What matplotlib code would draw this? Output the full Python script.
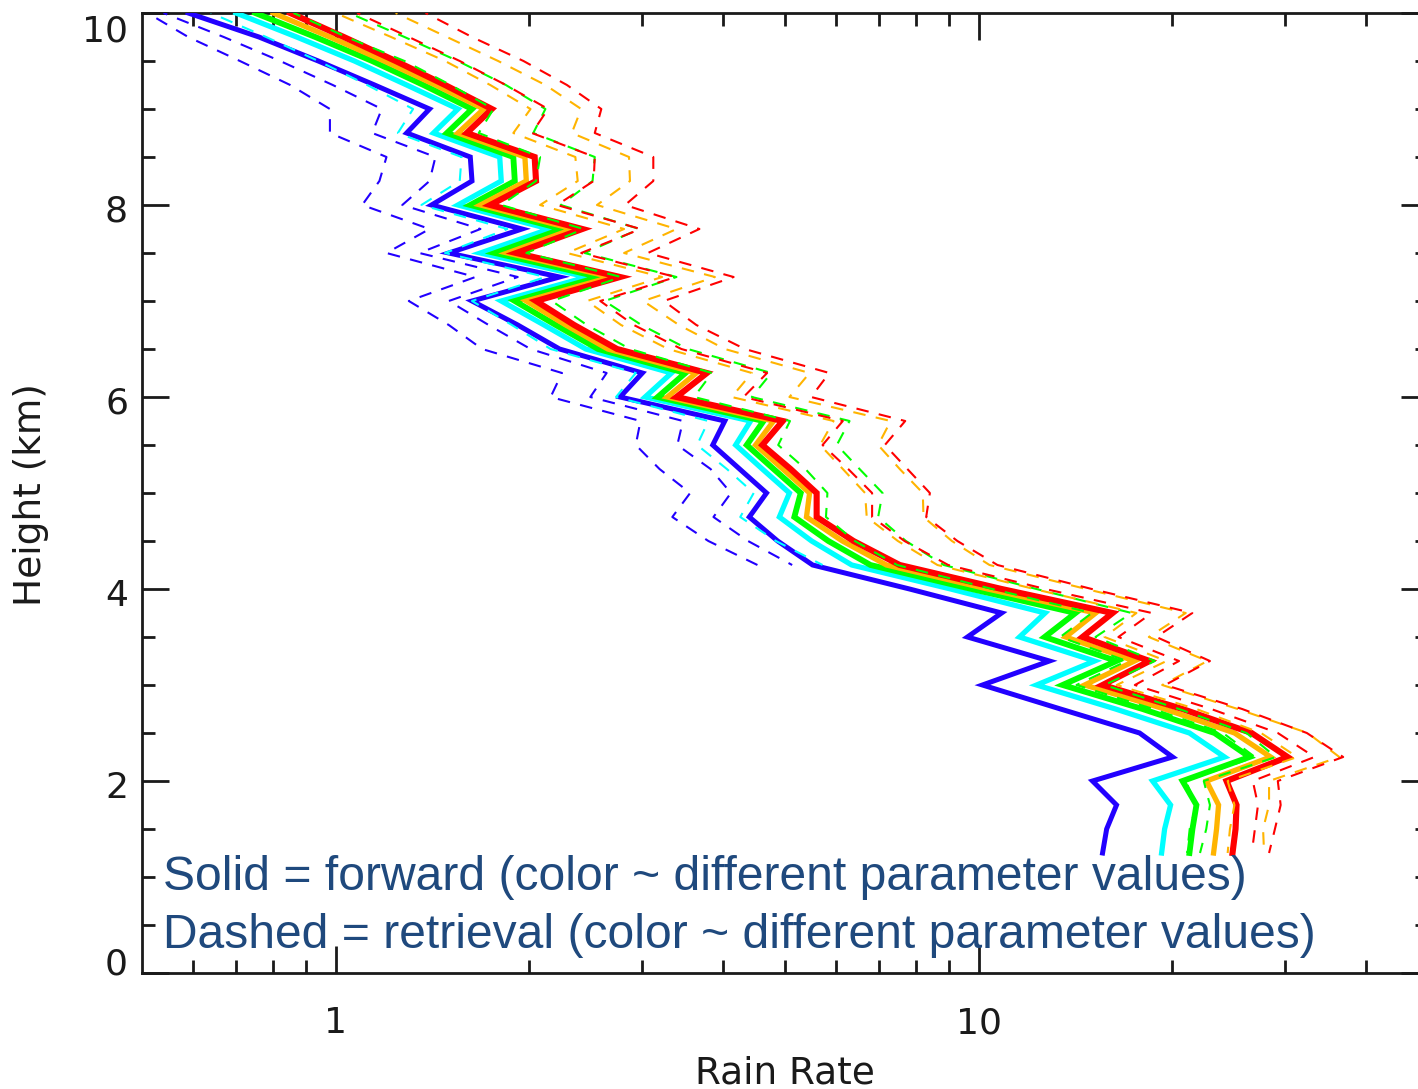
import matplotlib
matplotlib.use("Agg")
import matplotlib.pyplot as plt
import matplotlib.transforms as mtransforms
from matplotlib.ticker import FixedLocator, NullFormatter, FixedFormatter

# ---------------- data ----------------
height = [1.25, 1.50, 1.75, 2.00, 2.25, 2.50, 2.75, 3.00, 3.25, 3.50, 3.75, 4.00,
          4.25, 4.50, 4.75, 5.00, 5.25, 5.50, 5.75, 6.00, 6.25, 6.50, 6.75, 7.00,
          7.25, 7.50, 7.75, 8.00, 8.25, 8.50, 8.75, 9.00, 9.25, 9.50, 9.75, 10.00]
height_upper = [4.25, 4.50, 4.75, 5.00, 5.25, 5.50, 5.75, 6.00, 6.25, 6.50, 6.75, 7.00,
                7.25, 7.50, 7.75, 8.00, 8.25, 8.50, 8.75, 9.00, 9.25, 9.50, 9.75, 10.00]

# forward (solid)
fwd_blue = [15.59, 15.82, 16.39, 15.04, 20.03, 17.80, 13.41, 10.14, 12.89, 9.61, 10.86, 7.81,
            5.52, 4.87, 4.40, 4.68, 4.25, 3.86, 4.03, 2.77, 3.00, 2.23, 1.92, 1.63,
            2.23, 1.50, 1.95, 1.41, 1.63, 1.62, 1.29, 1.40, 1.15, 0.94, 0.76, 0.59]
fwd_cyan = [19.26, 19.47, 19.89, 18.65, 24.13, 21.28, 16.33, 12.31, 15.15, 11.58, 12.69, 9.05,
            6.35, 5.50, 4.90, 5.08, 4.61, 4.19, 4.42, 3.03, 3.33, 2.45, 2.11, 1.81,
            2.46, 1.68, 2.15, 1.55, 1.81, 1.80, 1.42, 1.55, 1.29, 1.07, 0.87, 0.70]
fwd_green = [21.28, 21.51, 21.82, 20.76, 26.39, 23.28, 17.99, 13.51, 16.39, 12.67, 14.15, 9.75,
             6.79, 5.84, 5.17, 5.29, 4.80, 4.36, 4.63, 3.17, 3.50, 2.56, 2.20, 1.90,
             2.57, 1.77, 2.25, 1.62, 1.90, 1.89, 1.49, 1.63, 1.37, 1.14, 0.93, 0.75]
fwd_orange = [23.20, 23.45, 23.62, 22.62, 28.46, 25.01, 19.47, 14.62, 17.48, 13.66, 15.21, 10.33,
              7.19, 6.14, 5.40, 5.46, 4.96, 4.50, 4.80, 3.28, 3.64, 2.65, 2.28, 1.98,
              2.68, 1.85, 2.34, 1.68, 1.98, 1.97, 1.55, 1.70, 1.43, 1.19, 0.98, 0.80]
fwd_red = [24.83, 25.10, 25.19, 24.30, 30.24, 26.58, 20.76, 15.59, 18.45, 14.51, 16.16, 10.86,
           7.54, 6.39, 5.60, 5.60, 5.10, 4.61, 4.96, 3.39, 3.78, 2.74, 2.35, 2.05,
           2.77, 1.91, 2.42, 1.74, 2.05, 2.04, 1.60, 1.75, 1.48, 1.24, 1.03, 0.85]

# retrieval (dashed)
ret_blue_a = [4.53, 3.80, 3.34, 3.56, 3.19, 2.93, 2.98, 2.16, 2.25, 1.69, 1.50, 1.30,
              1.65, 1.20, 1.40, 1.10, 1.17, 1.20, 0.98, 0.98, 0.85, 0.71, 0.59, 0.51]
ret_blue_b = [5.13, 4.38, 3.87, 4.12, 3.83, 3.40, 3.47, 2.49, 2.64, 2.01, 1.73, 1.50,
              1.92, 1.35, 1.68, 1.27, 1.40, 1.43, 1.14, 1.18, 0.99, 0.82, 0.67, 0.54]
ret_cyan = [5.72, 4.84, 4.26, 4.47, 4.06, 3.65, 3.80, 2.73, 2.93, 2.16, 1.88, 1.63,
            2.12, 1.48, 1.85, 1.36, 1.56, 1.57, 1.25, 1.32, 1.12, 0.94, 0.78, 0.64]
ret_green_a = [21.1, 21.3, 21.8, 21.0, 26.9, 24.0, 18.7, 14.2, 17.0, 13.4, 15.0, 10.5,
               7.47, 6.42, 5.79, 5.82, 5.38, 4.88, 5.09, 3.61, 3.85, 2.87, 2.46, 2.17,
               2.78, 1.98, 2.43, 1.81, 2.05, 2.08, 1.67, 1.76, 1.51, 1.28, 1.04, 0.86]
ret_green_b = [22.1, 22.6, 22.9, 22.4, 29.0, 26.1, 20.5, 15.7, 18.8, 15.2, 17.3, 12.3,
               8.83, 7.71, 6.98, 7.09, 6.53, 6.02, 6.30, 4.44, 4.76, 3.53, 2.99, 2.62,
               3.39, 2.44, 2.97, 2.24, 2.51, 2.53, 2.03, 2.12, 1.84, 1.55, 1.28, 1.05]
ret_orange_a = [24.4, 24.6, 25.0, 24.4, 31.3, 27.5, 21.8, 16.4, 19.6, 15.7, 17.6, 12.2,
                8.63, 7.49, 6.70, 6.66, 6.15, 5.67, 5.95, 4.13, 4.44, 3.29, 2.78, 2.46,
                3.22, 2.29, 2.81, 2.08, 2.38, 2.36, 1.89, 2.01, 1.74, 1.48, 1.22, 1.00]
ret_orange_b = [27.8, 27.7, 28.3, 28.3, 36.4, 32.5, 25.3, 19.3, 22.7, 18.4, 21.0, 14.7,
                10.4, 9.09, 8.21, 8.19, 7.54, 6.98, 7.30, 5.08, 5.46, 4.03, 3.42, 3.01,
                3.89, 2.81, 3.39, 2.55, 2.87, 2.86, 2.33, 2.41, 2.12, 1.79, 1.49, 1.24]
ret_red_a = [26.6, 26.9, 27.2, 26.7, 33.3, 29.2, 23.0, 17.5, 20.5, 16.5, 18.6, 12.7,
             8.97, 7.67, 6.83, 6.83, 6.27, 5.72, 6.15, 4.31, 4.69, 3.45, 2.91, 2.58,
             3.38, 2.41, 2.98, 2.21, 2.52, 2.53, 2.02, 2.14, 1.84, 1.56, 1.30, 1.08]
ret_red_b = [28.3, 28.9, 29.5, 29.2, 36.9, 32.4, 25.7, 19.5, 22.9, 18.9, 21.5, 15.0,
             10.7, 9.27, 8.29, 8.40, 7.75, 7.15, 7.69, 5.49, 5.86, 4.33, 3.64, 3.24,
             4.16, 3.06, 3.68, 2.82, 3.12, 3.12, 2.53, 2.59, 2.29, 1.96, 1.63, 1.38]

x_major = [1, 10]
x_major_labels = ["1", "10"]
x_minor = [0.6, 0.7, 0.8, 0.9, 2, 3, 4, 5, 6, 7, 8, 9, 20, 30, 40]
y_major = [0, 2, 4, 6, 8, 10]
y_minor = [0.5, 1, 1.5, 2.5, 3, 3.5, 4.5, 5, 5.5, 6.5, 7, 7.5, 8.5, 9, 9.5]

C_BLUE = "#2200ff"
C_CYAN = "#00ffff"
C_GREEN = "#00ff00"
C_ORANGE = "#ffb400"
C_RED = "#ff0000"

# ---------------- figure ----------------
W, H = 1418, 1089
fig = plt.figure(figsize=(W / 100, H / 100), dpi=100)
left_px, right_px, top_px, bot_px = 142, 1428, 13, 973
ax = fig.add_axes([left_px / W, 1 - bot_px / H, (right_px - left_px) / W, (bot_px - top_px) / H])
ax.set_xscale("log")
ax.set_xlim(0.5, 50)
ax.set_ylim(0, 10)

for vals, c, lw in [(fwd_blue, C_BLUE, 3.6), (fwd_cyan, C_CYAN, 3.8), (fwd_green, C_GREEN, 4.2),
                    (fwd_orange, C_ORANGE, 3.8), (fwd_red, C_RED, 4.4)]:
    ax.plot(vals, height, color=c, lw=lw, solid_joinstyle="miter", zorder=3)

dash_lw = 1.5
for hts, vals, c, off in [(height_upper, ret_blue_a, C_BLUE, 0), (height_upper, ret_blue_b, C_BLUE, 4),
                          (height_upper, ret_cyan, C_CYAN, 2),
                          (height, ret_green_a, C_GREEN, 5), (height, ret_green_b, C_GREEN, 1),
                          (height, ret_orange_a, C_ORANGE, 3), (height, ret_orange_b, C_ORANGE, 7),
                          (height, ret_red_a, C_RED, 6), (height, ret_red_b, C_RED, 2)]:
    ax.plot(vals, hts, color=c, lw=dash_lw, linestyle=(off, (6, 5)), zorder=4)

# axes styling
for s in ax.spines.values():
    s.set_linewidth(2.0)
    s.set_color("#1a1a1a")

ax.xaxis.set_major_locator(FixedLocator(x_major))
ax.xaxis.set_major_formatter(FixedFormatter(x_major_labels))
ax.xaxis.set_minor_locator(FixedLocator(x_minor))
ax.xaxis.set_minor_formatter(NullFormatter())
ax.yaxis.set_major_locator(FixedLocator(y_major))
ax.yaxis.set_minor_locator(FixedLocator(y_minor))
ax.yaxis.set_minor_formatter(NullFormatter())

tick_font = ["Liberation Sans Narrow", "DejaVu Sans"]
ax.tick_params(which="both", direction="in", top=True, right=True, color="#1a1a1a", width=2.0)
ax.tick_params(which="major", length=19.5)
ax.tick_params(which="minor", length=9.5)
ax.tick_params(axis="y", which="major", pad=10, labelsize=26)
ax.tick_params(axis="x", which="major", pad=24, labelsize=26)
for lab in ax.get_xticklabels() + ax.get_yticklabels():
    lab.set_family(tick_font)
    lab.set_color("#1a1a1a")

# IDL-style: end labels pulled inside the axis range
yticks = ax.yaxis.get_major_ticks()
shift = {0: 12, 10: -15}
for val, tk in zip(y_major, yticks):
    dy = shift.get(val, -3)
    tk.label1.set_transform(tk.label1.get_transform() +
                            mtransforms.ScaledTranslation(0, dy / 100, fig.dpi_scale_trans))

fig.text(785 / W, 1 - 1073 / H, "Rain Rate", ha="center", va="center",
         fontsize=27, family=tick_font, color="#1a1a1a")
fig.text(31 / W, 1 - 495 / H, "Height (km)", ha="center", va="center", rotation=90,
         fontsize=27, family=tick_font, color="#1a1a1a")

ann_font = ["Liberation Sans", "DejaVu Sans"]
ann_color = "#1f497d"
fig.text(163 / W, 1 - 890 / H, "Solid = forward (color ~ different parameter values)",
         ha="left", va="baseline", fontsize=34.6, family=ann_font, color=ann_color, zorder=10)
fig.text(163 / W, 1 - 948 / H, "Dashed = retrieval (color ~ different parameter values)",
         ha="left", va="baseline", fontsize=34.6, family=ann_font, color=ann_color, zorder=10)

fig.savefig("out.png", dpi=100)
